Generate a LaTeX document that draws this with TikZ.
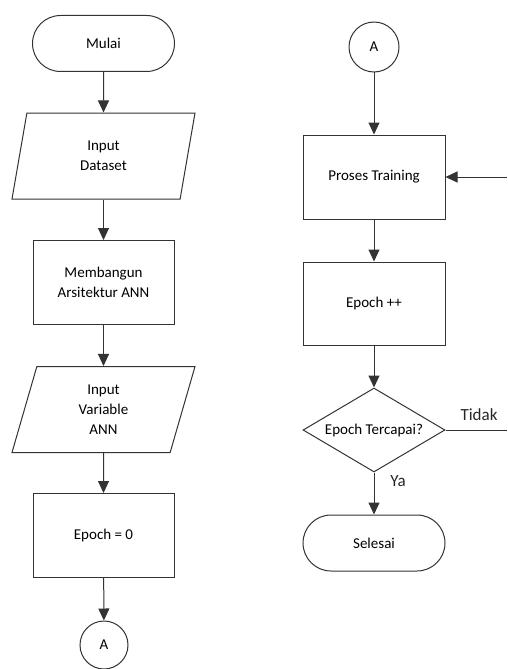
\documentclass[tikz,border=0pt]{standalone}
\usepackage{fontspec}
\setmainfont{Carlito}
\usetikzlibrary{shapes.geometric,arrows.meta}
\tikzset{arrow/.style={-{Triangle[width=11pt,length=12pt]}}}
\tikzset{base/.style={draw=black!80, line width=1pt, align=center, inner sep=0pt, font=\fontsize{15}{20}\selectfont}}
\tikzset{terminal/.style={base, rounded corners=28pt, minimum width=142pt, minimum height=56pt}}
\tikzset{process/.style={base, rectangle, minimum width=141pt, minimum height=84pt}}
\tikzset{data/.style={base, trapezium, trapezium left angle=63.4, trapezium right angle=116.6, trapezium stretches body, minimum width=183pt, minimum height=86pt}}
\tikzset{decision/.style={base, diamond, aspect=1.7, minimum width=142pt, minimum height=84pt}}
\tikzset{connector/.style={base, circle, minimum size=50pt}}
\tikzset{edgelabel/.style={font=\fontsize{17}{20}\selectfont, text=black!85}}

\begin{document}
\begin{tikzpicture}[x=1pt, y=-1pt, draw=black!80, line width=1pt]
      \useasboundingbox (0, 0) rectangle (507, 669);

      \node[terminal] (mulai) at (103.5, 43.5) {Mulai};
      \node[data] (dataset) at (103.5, 156) {Input\\Dataset};
      \node[process] (arsitektur) at (103.5, 282.5) {Membangun\\Arsitektur ANN};
      \node[data] (variabel) at (103.5, 409.5) {Input\\Variable\\ANN};
      \node[process] (epochnol) at (103.5, 535.5) {Epoch = 0};
      \node[connector, minimum size=48pt] (keluarA) at (104, 645) {A};

      \draw[arrow] (mulai) -- (dataset);
      \draw[arrow] (dataset) -- (arsitektur);
      \draw[arrow] (arsitektur) -- (variabel);
      \draw[arrow] (variabel) -- (epochnol);
      \draw[arrow] (epochnol) -- (keluarA);

      \node[connector] (masukA) at (374, 47) {A};
      \node[process, minimum width=142pt] (training) at (374, 177) {Proses Training};
      \node[process, minimum width=142pt, minimum height=83pt] (epochinc) at (374, 303.5) {Epoch ++};
      \node[decision] (cek) at (374, 430) {Epoch Tercapai?};
      \node[terminal] (selesai) at (374, 543) {Selesai};

      \coordinate (balik) at (507, 177);
      \coordinate (tidak) at (507, 430);

      \draw[arrow] (masukA) -- (training);
      \draw[arrow] (training) -- (epochinc);
      \draw[arrow] (epochinc) -- (cek);
      \draw[arrow] (cek) -- (selesai);
      \draw (cek.east) -- (tidak);
      \draw[arrow] (balik) -- (training.east);

      \node[edgelabel] (ltidak) at (479, 415) {Tidak};
      \node[edgelabel] (lya) at (398, 481) {Ya};
    \end{tikzpicture}
\end{document}
